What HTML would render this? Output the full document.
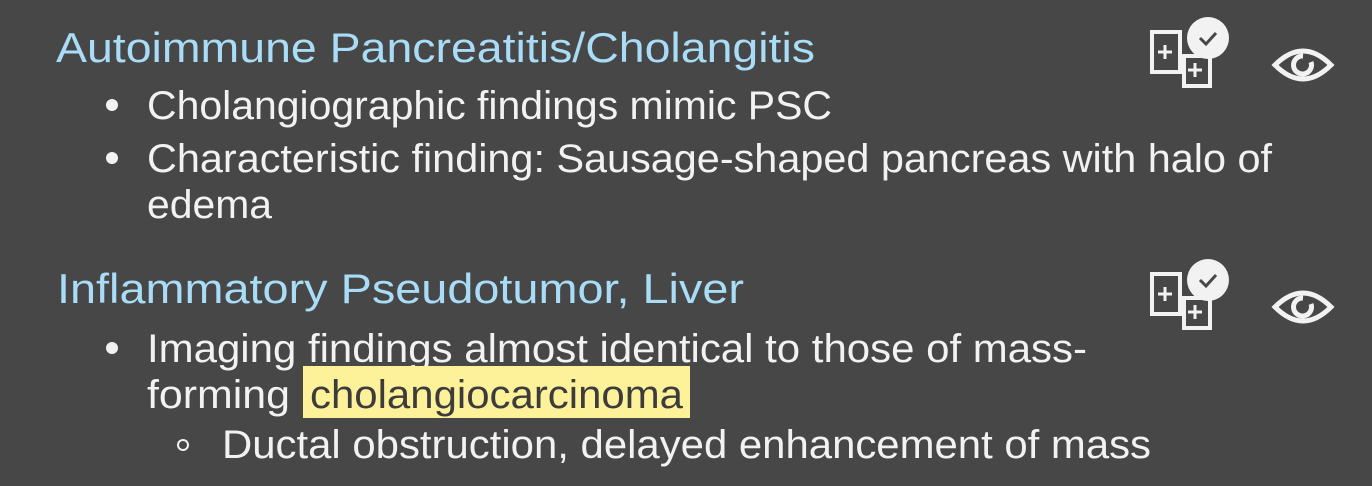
<!DOCTYPE html>
<html><head><meta charset="utf-8"><style>
html,body{margin:0;padding:0;background:#474747;width:1372px;height:486px;overflow:hidden}
svg{display:block}
text{font-family:"Liberation Sans","DejaVu Sans",sans-serif}
</style></head><body>
<svg width="1372" height="486" viewBox="0 0 1372 486">
<rect width="1372" height="486" fill="#474747"/>

<text x="56" y="62" font-size="42" fill="#a9dcf6" textLength="759" lengthAdjust="spacingAndGlyphs">Autoimmune Pancreatitis/Cholangitis</text>
<circle cx="112" cy="105" r="6" fill="#f2f2f2"/>
<text x="147" y="119" font-size="40" fill="#f2f2f2" textLength="685" lengthAdjust="spacingAndGlyphs">Cholangiographic findings mimic PSC</text>
<circle cx="112" cy="158" r="6" fill="#f2f2f2"/>
<text x="147" y="172" font-size="40" fill="#f2f2f2" textLength="1125" lengthAdjust="spacingAndGlyphs">Characteristic finding: Sausage-shaped pancreas with halo of</text>
<text x="147" y="218" font-size="40" fill="#f2f2f2" textLength="125" lengthAdjust="spacingAndGlyphs">edema</text>

<text x="57" y="303" font-size="42" fill="#a9dcf6" textLength="687" lengthAdjust="spacingAndGlyphs">Inflammatory Pseudotumor, Liver</text>
<circle cx="112" cy="348" r="6" fill="#f2f2f2"/>
<text x="147" y="362" font-size="40" fill="#f2f2f2" textLength="940" lengthAdjust="spacingAndGlyphs">Imaging findings almost identical to those of mass-</text>
<text x="147" y="408" font-size="40" fill="#f2f2f2" textLength="143" lengthAdjust="spacingAndGlyphs">forming</text>
<rect x="303" y="366" width="387" height="52" fill="#fdf19a"/>
<text x="310" y="408" font-size="40" fill="#3c3c3c" textLength="373" lengthAdjust="spacingAndGlyphs">cholangiocarcinoma</text>
<circle cx="183" cy="445" r="5" fill="none" stroke="#f2f2f2" stroke-width="2"/>
<text x="222" y="458" font-size="40" fill="#f2f2f2" textLength="929" lengthAdjust="spacingAndGlyphs">Ductal obstruction, delayed enhancement of mass</text>

<g>
<rect x="1152" y="32" width="28" height="40" fill="#474747" stroke="#f2f2f2" stroke-width="4"/>
<path d="M1158 52h14M1165 45v14" stroke="#f2f2f2" stroke-width="3"/>
<rect x="1184" y="56" width="26" height="30" fill="#474747" stroke="#f2f2f2" stroke-width="4"/>
<path d="M1188 70h14M1195 63v14" stroke="#f2f2f2" stroke-width="3"/>
<circle cx="1208" cy="38" r="21" fill="#f2f2f2"/>
<path d="M1200 38l6 6 10-11" fill="none" stroke="#474747" stroke-width="3"/>
</g>
<g>
<path d="M1275 65Q1303 37 1331 65Q1303 93 1275 65Z" fill="none" stroke="#f2f2f2" stroke-width="5"/>
<path d="M1311 62A9 9 0 1 1 1303 56" fill="none" stroke="#f2f2f2" stroke-width="5"/>
</g>
<g transform="translate(0,242)">
<rect x="1152" y="32" width="28" height="40" fill="#474747" stroke="#f2f2f2" stroke-width="4"/>
<path d="M1158 52h14M1165 45v14" stroke="#f2f2f2" stroke-width="3"/>
<rect x="1184" y="56" width="26" height="30" fill="#474747" stroke="#f2f2f2" stroke-width="4"/>
<path d="M1188 70h14M1195 63v14" stroke="#f2f2f2" stroke-width="3"/>
<circle cx="1208" cy="38" r="21" fill="#f2f2f2"/>
<path d="M1200 38l6 6 10-11" fill="none" stroke="#474747" stroke-width="3"/>
</g>
<g transform="translate(0,242)">
<path d="M1275 65Q1303 37 1331 65Q1303 93 1275 65Z" fill="none" stroke="#f2f2f2" stroke-width="5"/>
<path d="M1311 62A9 9 0 1 1 1303 56" fill="none" stroke="#f2f2f2" stroke-width="5"/>
</g>
</svg>
</body></html>
